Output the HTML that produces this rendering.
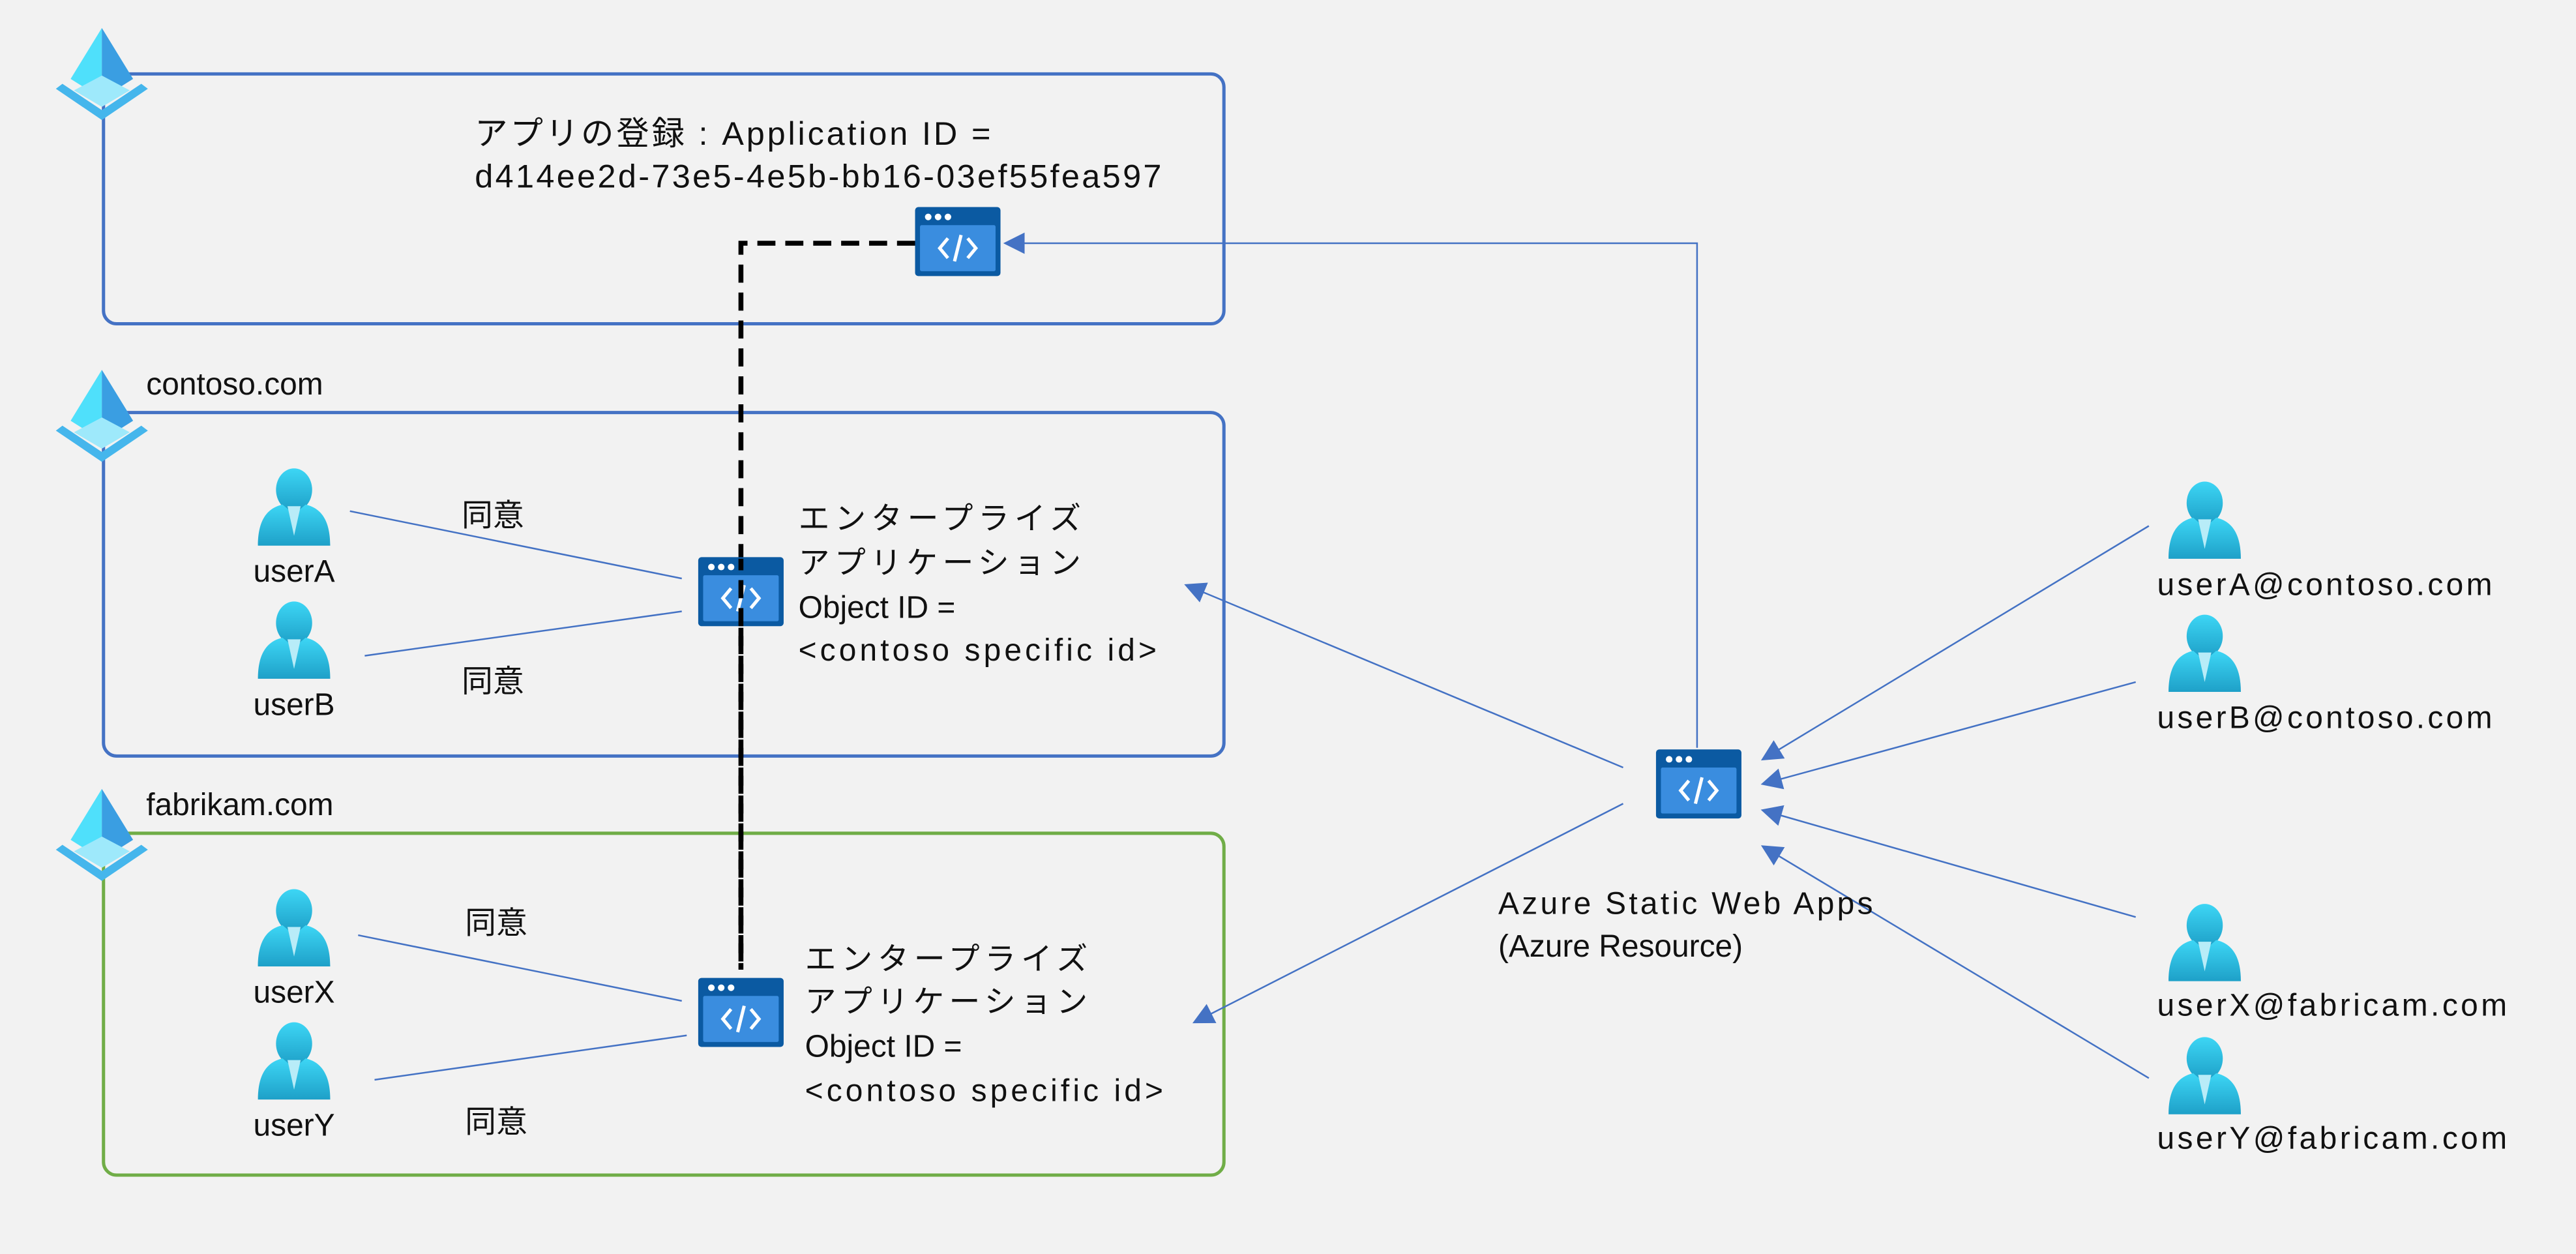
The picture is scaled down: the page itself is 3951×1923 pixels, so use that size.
<!DOCTYPE html>
<html><head><meta charset="utf-8"><style>
html,body{margin:0;padding:0;background:#f2f2f2;}
svg{display:block;}
text{font-family:"Liberation Sans","Noto Sans CJK JP",sans-serif;fill:#111;}
</style></head><body>
<svg width="3951" height="1923" viewBox="0 0 1568 763" preserveAspectRatio="none" xmlns="http://www.w3.org/2000/svg">
<defs>
<linearGradient id="ug" x1="0" y1="0" x2="0" y2="1"><stop offset="0" stop-color="#3dd6f5"/><stop offset="1" stop-color="#1ea0c8"/></linearGradient>
<marker id="ah" viewBox="0 0 10 10" refX="9" refY="5" markerWidth="13" markerHeight="13" orient="auto" markerUnits="userSpaceOnUse"><path d="M0,0 L10,5 L0,10 z" fill="#4472c4"/></marker>
<g id="user">
<ellipse cx="0" cy="-12" rx="11" ry="13" fill="url(#ug)"/>
<path d="M-22,22 C-22,6 -16,-1 -7,-3 L0,3 L7,-3 C16,-1 22,6 22,22 Z" fill="url(#ug)"/>
<path d="M-4,-2 L0,16 L4,-2 Z" fill="#b8ecf8"/>
</g>
<g id="app">
<rect x="0" y="0" width="52" height="42" rx="2" fill="#0b5aa2"/>
<rect x="3" y="11" width="46" height="28" rx="1" fill="#3a8ddf"/>
<circle cx="8" cy="6" r="2" fill="#fff"/><circle cx="14" cy="6" r="2" fill="#fff"/><circle cx="20" cy="6" r="2" fill="#fff"/>
<path d="M20,19 L15,25 L20,31 M32,19 L37,25 L32,31 M28,17 L24,33" stroke="#fff" stroke-width="2" fill="none"/>
</g>
<g id="aad">
<polygon points="0,-25 -19,6 0,18" fill="#4fe0fb"/>
<polygon points="0,-25 19,6 0,18" fill="#3a9ee2"/>
<polygon points="0,4 -17,13 0,23 17,13" fill="#9ee9fb"/>
<polygon points="-28,12 0,31 28,12 24,9 0,25 -24,9" fill="#45b6ec"/>
</g>
</defs>
<rect width="1568" height="763" fill="#f2f2f2"/>
<rect x="63" y="45" width="682" height="152" rx="8" fill="none" stroke="#4472c4" stroke-width="2"/>
<rect x="63" y="251" width="682" height="209" rx="8" fill="none" stroke="#4472c4" stroke-width="2"/>
<rect x="63" y="507" width="682" height="208" rx="8" fill="none" stroke="#70ad47" stroke-width="2"/>
<use href="#aad" x="62" y="42"/>
<use href="#aad" x="62" y="250"/>
<use href="#aad" x="62" y="505"/>
<text x="289" y="88" font-size="20" textLength="314">アプリの登録 : Application ID =</text>
<text x="289" y="114" font-size="20" textLength="418">d414ee2d-73e5-4e5b-bb16-03ef55fea597</text>
<text x="89" y="240" font-size="19">contoso.com</text>
<text x="89" y="496" font-size="19">fabrikam.com</text>
<path d="M557,148 L451,148 L451,590" stroke="#000" stroke-width="3" fill="none" stroke-dasharray="11,6"/>
<g stroke="#4472c4" stroke-width="1" fill="none">
<path d="M1033,455 L1033,148 L612,148" marker-end="url(#ah)"/>
<path d="M213,311 L415,352"/><path d="M222,399 L415,372"/>
<path d="M218,569 L415,609"/><path d="M228,657 L418,630"/>
<path d="M988,467 L722,356" marker-end="url(#ah)"/>
<path d="M988,489 L727,622" marker-end="url(#ah)"/>
<path d="M1308,320 L1073,462" marker-end="url(#ah)"/>
<path d="M1300,415 L1073,477" marker-end="url(#ah)"/>
<path d="M1300,558 L1073,493" marker-end="url(#ah)"/>
<path d="M1308,656 L1073,515" marker-end="url(#ah)"/>
</g>
<use href="#app" x="557" y="126"/>
<use href="#app" x="425" y="339"/>
<use href="#app" x="425" y="595"/>
<use href="#app" x="1008" y="456"/>
<path d="M451,340 L451,590" stroke="#000" stroke-width="3" fill="none" stroke-dasharray="11,6" stroke-dashoffset="4"/>
<use href="#user" x="179" y="310"/><use href="#user" x="179" y="391"/>
<use href="#user" x="179" y="566"/><use href="#user" x="179" y="647"/>
<use href="#user" x="1342" y="318"/><use href="#user" x="1342" y="399"/>
<use href="#user" x="1342" y="575"/><use href="#user" x="1342" y="656"/>
<g font-size="19" text-anchor="middle">
<text x="179" y="354">userA</text><text x="179" y="435">userB</text>
<text x="179" y="610">userX</text><text x="179" y="691">userY</text>
</g>
<g font-size="19">
<text x="281" y="320">同意</text><text x="281" y="421">同意</text>
<text x="283" y="568">同意</text><text x="283" y="689">同意</text>
<text x="486" y="322" textLength="172">エンタープライズ</text>
<text x="486" y="349" textLength="172">アプリケーション</text>
<text x="486" y="376">Object ID =</text>
<text x="486" y="402" textLength="218">&lt;contoso specific id&gt;</text>
<text x="490" y="590" textLength="172">エンタープライズ</text>
<text x="490" y="616" textLength="172">アプリケーション</text>
<text x="490" y="643">Object ID =</text>
<text x="490" y="670" textLength="218">&lt;contoso specific id&gt;</text>
<text x="912" y="556" textLength="228">Azure Static Web Apps</text>
<text x="912" y="582">(Azure Resource)</text>
<text x="1313" y="362" textLength="204">userA@contoso.com</text>
<text x="1313" y="443" textLength="204">userB@contoso.com</text>
<text x="1313" y="618" textLength="213">userX@fabricam.com</text>
<text x="1313" y="699" textLength="213">userY@fabricam.com</text>
</g>
</svg>
</body></html>
